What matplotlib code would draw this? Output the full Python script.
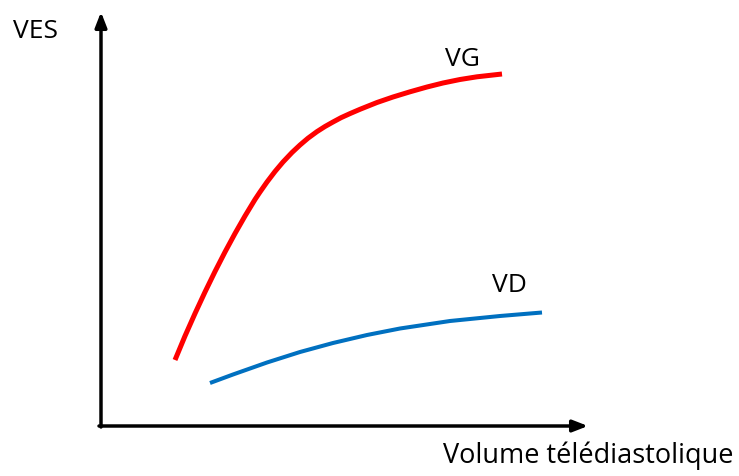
import matplotlib
matplotlib.use('Agg')
import matplotlib.pyplot as plt

# ── Data (pixel frame: x right, y down) ───────────────────────────────────
vg_x = [175, 185, 195, 205, 215, 225, 235, 245, 255, 260, 267, 275, 283,
        292, 300, 308, 317, 325, 333, 341, 350, 360, 377, 393, 410, 427, 443,
        460, 477, 502]
vg_y = [361, 337, 314.5, 293, 272.5, 253, 234.5, 217, 200.5, 193, 183, 172.5,
        163, 153.5, 146, 139.2, 132.6, 127.5, 123, 118.7, 114.6, 110.3, 103.5,
        98, 92.8, 88, 84, 80.5, 77.8, 75]

vd_x = [210, 233, 267, 300, 333, 367, 400, 450, 500, 542]
vd_y = [384, 375.5, 363.5, 353, 344, 336, 329.5, 322, 317, 313.5]

labels = ['VG', 'VD']
x_label = 'Volume télédiastolique'
y_label = 'VES'

RED = '#FF0000'
BLUE = '#0070C0'
FONT = ['Open Sans', 'DejaVu Sans']

fig = plt.figure(figsize=(7.39, 4.77), dpi=100)
ax = fig.add_axes([0, 0, 1, 1])
ax.set_xlim(0, 739)
ax.set_ylim(477, 0)
ax.axis('off')

# axes arrows
arrow = dict(arrowstyle='-|>,head_length=0.9,head_width=0.35', color='black',
             lw=2.5, shrinkA=0, shrinkB=0)
ax.annotate('', xy=(101, 13), xytext=(101, 428), arrowprops=arrow)
ax.annotate('', xy=(588, 427), xytext=(99, 427), arrowprops=arrow)

# curves
ax.plot(vg_x, vg_y, color=RED, lw=3.6, solid_capstyle='butt',
        solid_joinstyle='round')
ax.plot(vd_x, vd_y, color=BLUE, lw=2.9, solid_capstyle='butt',
        solid_joinstyle='round')

# texts
ax.text(13, 38, y_label, fontsize=19, family=FONT, va='baseline', ha='left')
ax.text(445, 66, labels[0], fontsize=19, family=FONT, va='baseline', ha='left')
ax.text(492, 292, labels[1], fontsize=19, family=FONT, va='baseline', ha='left')
ax.text(443, 463, x_label, fontsize=19.5, family=FONT, va='baseline', ha='left')

fig.savefig('out.png', dpi=100)
